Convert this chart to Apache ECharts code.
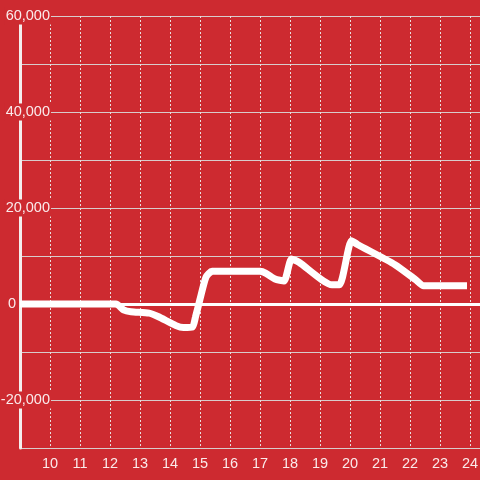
<!DOCTYPE html>
<html>
<head>
<meta charset="utf-8">
<script src="https://cdn.jsdelivr.net/npm/echarts@6/dist/echarts.min.js"></script>
<style>
  html, body { margin: 0; padding: 0; background: #cd2a30; }
  #chart { width: 480px; height: 480px; }
</style>
</head>
<body>
<div id="chart"></div>
<script>
// values (x = day, y = amount)
var days = [9, 12.2, 12.45, 12.7, 13.3, 13.6, 14.2, 14.45, 14.75, 14.85, 15.0, 15.2, 15.4, 17.0, 17.2, 17.5, 17.8, 18.05, 18.3, 19.4, 19.65, 20.05, 20.25, 21.5, 22.2, 22.45, 23.9];
var amounts = [0, 0, -1200, -1600, -1900, -2600, -4500, -4900, -4800, -2700, 1000, 5600, 6800, 6800, 6400, 5200, 4800, 9400, 8700, 4000, 4000, 13200, 12400, 8200, 5000, 3800, 3800];

var bg = '#cd2a30';
var labelFont = 'Liberation Sans';
var labelColor = 'rgba(255,255,255,0.9)';
var fs = 14.5;
var chart = echarts.init(document.getElementById('chart'));

var points = [];
for (var i = 0; i < days.length; i++) {
  points.push([days[i], amounts[i]]);
}

chart.setOption({
  backgroundColor: bg,
  animation: false,
  grid: { left: 20, right: 0, top: 16, bottom: 32, containLabel: false, outerBoundsMode: 'none' },
  xAxis: {
    type: 'value',
    min: 9,
    max: 24.333,
    interval: 1,
    axisLine: { show: false },
    axisTick: { show: false },
    axisLabel: {
      color: labelColor,
      fontSize: fs,
      fontFamily: labelFont,
      margin: 8,
      showMinLabel: false,
      showMaxLabel: false
    },
    splitLine: { show: true, lineStyle: { color: '#e8dede', width: 1, type: [2, 2] } }
  },
  yAxis: {
    type: 'value',
    min: -30000,
    max: 60000,
    interval: 10000,
    axisLine: { show: true, lineStyle: { color: '#f4eeee', width: 3 } },
    axisTick: { show: false },
    axisLabel: {
      color: labelColor,
      fontSize: fs,
      fontFamily: labelFont,
      margin: -31,
      formatter: function (v) {
        if (v % 20000 !== 0) return '';
        if (v === 0) return '{z|0}';
        return '{a|' + v.toLocaleString('en-US') + '}';
      },
      rich: {
        a: { backgroundColor: bg, padding: [1, 1], fontSize: fs, fontFamily: labelFont, color: labelColor },
        z: { padding: [0, 35, 0, 0], fontSize: fs, fontFamily: labelFont, color: labelColor }
      }
    },
    splitLine: { show: true, lineStyle: { color: '#d8cccc', width: 1 } }
  },
  series: [{
    type: 'line',
    data: points,
    smooth: 0.2,
    showSymbol: false,
    lineStyle: { color: '#ffffff', width: 7, cap: 'butt' },
    markLine: {
      silent: true,
      symbol: 'none',
      label: { show: false },
      lineStyle: { color: '#ffffff', width: 3, type: 'solid' },
      data: [{ yAxis: 0 }]
    }
  }]
});
</script>
</body>
</html>
